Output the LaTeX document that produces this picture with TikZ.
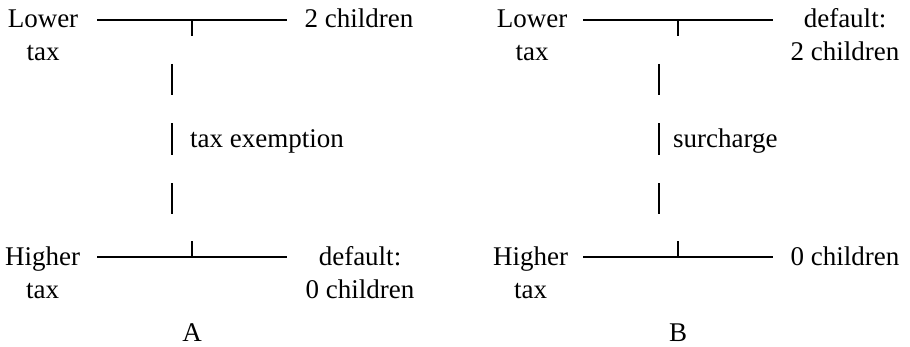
\documentclass[tikz,border=0pt]{standalone}
\usepackage{fontspec}
\setmainfont{Liberation Serif}
\begin{document}
\begin{tikzpicture}[x=1pt,y=1pt,
  lbl/.style={inner sep=0pt, font=\fontsize{27}{33}\selectfont, align=center, anchor=base},
  hline/.style={line width=1.1pt},
  tick/.style={line width=1.1pt},
  dline/.style={line width=1.1pt, dash pattern=on 31pt off 28.5pt}]
\useasboundingbox (0,0) rectangle (910,346);
% ---------- Panel A ----------
\node[lbl] (lowA) at (43,285) {Lower\\tax};
\node[lbl] (highA) at (42.5,48) {Higher\\tax};
\node[lbl] (twoA) at (359,318) {2 children};
\node[lbl] (defA) at (360,48) {default:\\0 children};
\node[lbl, anchor=base west] (exA) at (190,199) {tax exemption};
\node[lbl] (labA) at (192,5) {A};
\coordinate (tlA) at (97,326);
\coordinate (trA) at (287,326);
\coordinate (ttA) at (192,326);
\coordinate (ttAe) at (192,310);
\coordinate (blA) at (97,89);
\coordinate (brA) at (287,89);
\coordinate (btA) at (192,89);
\coordinate (btAe) at (192,105);
\coordinate (vtA) at (172,282);
\coordinate (vbA) at (172,132);
\draw[hline] (tlA) -- (trA);
\draw[tick] (ttA) -- (ttAe);
\draw[hline] (blA) -- (brA);
\draw[tick] (btA) -- (btAe);
\draw[dline] (vtA) -- (vbA);
% ---------- Panel B ----------
\node[lbl] (lowB) at (532,285) {Lower\\tax};
\node[lbl] (highB) at (530.5,48) {Higher\\tax};
\node[lbl] (defB) at (845,285) {default:\\2 children};
\node[lbl] (zeroB) at (845,81) {0 children};
\node[lbl, anchor=base west] (surB) at (673,199) {surcharge};
\node[lbl] (labB) at (678,5) {B};
\coordinate (tlB) at (583,326);
\coordinate (trB) at (773,326);
\coordinate (ttB) at (678,326);
\coordinate (ttBe) at (678,310);
\coordinate (blB) at (583,89);
\coordinate (brB) at (773,89);
\coordinate (btB) at (678,89);
\coordinate (btBe) at (678,105);
\coordinate (vtB) at (659,282);
\coordinate (vbB) at (659,132);
\draw[hline] (tlB) -- (trB);
\draw[tick] (ttB) -- (ttBe);
\draw[hline] (blB) -- (brB);
\draw[tick] (btB) -- (btBe);
\draw[dline] (vtB) -- (vbB);
\end{tikzpicture}
\end{document}
